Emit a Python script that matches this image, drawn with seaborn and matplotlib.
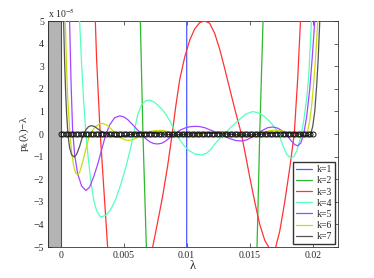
import numpy as np
import pandas as pd
import matplotlib
matplotlib.use('Agg')
import matplotlib.pyplot as plt
import seaborn as sns

# lambda in units of 1e-3, p_k(lambda)-lambda in units of 1e-5
k1_lam = [9.998, 10.002]
k1_val = [-6.0, 6.0]

k2_lam = [6.10, 6.325, 6.532, 6.802, 7.50, 9.00, 11.20, 13.50, 15.00, 15.579, 15.794, 16.056, 16.30]
k2_val = [10.5, 5.0, 0.0, -5.0, -15.0, -33.0, -40.0, -30.0, -15.0, -5.0, 0.0, 5.0, 10.0]

k3_lam = [2.540, 2.754, 2.857, 2.976, 3.143, 3.333, 3.532, 3.730, 3.968, 4.524, 5.476, 6.429,
          7.302, 7.698, 8.095, 8.492, 8.849, 9.127, 9.444, 9.841, 10.238, 10.635, 11.032, 11.429,
          11.825, 12.222, 12.619, 13.016, 13.413, 13.889, 14.341, 14.603, 15.000, 15.397, 15.794,
          16.190, 16.587, 16.825, 17.063, 17.381, 17.778, 18.175, 18.532, 18.810, 19.024, 19.206]
k3_val = [12.0, 5.0, 3.3, 1.9, 0.0, -1.6, -3.3, -5.0, -7.0, -11.0, -14.0, -11.0,
          -5.0, -3.9, -2.75, -1.4, 0.0, 1.2, 2.4, 3.4, 4.15, 4.65, 4.93, 5.0,
          4.9, 4.45, 3.75, 2.9, 2.0, 0.95, 0.0, -0.75, -1.9, -3.0, -4.0,
          -4.7, -5.08, -5.15, -5.0, -4.3, -3.0, -1.5, 0.0, 2.5, 5.0, 8.0]

k4_lam = [1.349, 1.508, 1.667, 1.825, 1.984, 2.143, 2.381, 2.619, 2.857, 3.175, 3.571, 3.968,
          4.365, 4.762, 5.159, 5.476, 5.794, 6.111, 6.429, 6.746, 7.063, 7.460, 7.857, 8.254,
          8.651, 9.127, 9.444, 9.841, 10.238, 10.635, 11.167, 11.587, 11.905, 12.222, 12.619,
          13.016, 13.413, 13.810, 14.206, 14.683, 15.214, 15.635, 16.111, 16.587, 16.984, 17.222,
          17.460, 17.698, 17.937, 18.254, 18.492, 18.730, 18.968, 19.127, 19.286, 19.524, 19.683,
          19.897, 20.000]
k4_val = [7.0, 5.0, 3.1, 1.5, 0.2, -0.8, -2.0, -2.9, -3.4, -3.68, -3.6, -3.35,
          -2.9, -2.25, -1.5, -0.8, 0.0, 0.85, 1.3, 1.47, 1.5, 1.4, 1.2, 0.95,
          0.6, 0.05, -0.25, -0.55, -0.75, -0.88, -0.93, -0.85, -0.68, -0.45, -0.2,
          0.02, 0.25, 0.45, 0.65, 0.88, 0.99, 0.95, 0.8, 0.55, 0.3, 0.08,
          -0.25, -0.62, -0.9, -1.07, -1.0, -0.75, -0.3, 0.1, 0.6, 1.6, 2.6,
          5.0, 7.0]

k5_lam = [0.595, 0.714, 0.833, 0.952, 1.111, 1.349, 1.667, 2.008, 2.302, 2.619, 2.937, 3.254,
          3.571, 3.889, 4.286, 4.683, 5.000, 5.317, 5.635, 5.952, 6.405, 6.746, 7.063, 7.381,
          7.698, 8.016, 8.333, 8.651, 9.048, 9.444, 9.841, 10.238, 10.635, 11.032, 11.429,
          11.825, 12.222, 12.619, 13.016, 13.413, 13.889, 14.365, 14.762, 15.159, 15.635, 16.032,
          16.429, 16.825, 17.222, 17.619, 18.016, 18.333, 18.571, 18.810, 19.048, 19.286, 19.524,
          19.762, 19.960, 20.159, 20.278]
k5_val = [9.0, 5.0, 2.2, 0.2, -0.9, -1.75, -2.3, -2.5, -2.35, -1.9, -1.35, -0.7,
          -0.05, 0.4, 0.72, 0.8, 0.76, 0.64, 0.46, 0.27, 0.0, -0.2, -0.34, -0.42,
          -0.44, -0.41, -0.31, -0.17, 0.0, 0.16, 0.26, 0.32, 0.34, 0.33, 0.28,
          0.19, 0.1, 0.02, -0.1, -0.2, -0.29, -0.31, -0.26, -0.14, 0.02, 0.17,
          0.28, 0.31, 0.26, 0.12, -0.1, -0.33, -0.47, -0.52, -0.4, 0.0, 0.8,
          2.0, 3.4, 5.0, 7.0]

k6_lam = [0.238, 0.373, 0.476, 0.556, 0.714, 0.873, 1.032, 1.190, 1.349, 1.508, 1.746, 1.984,
          2.222, 2.405, 2.698, 3.095, 3.333, 3.651, 4.048, 4.421, 4.762, 5.159, 5.476, 5.873,
          6.270, 6.667, 7.063, 7.460, 8.095, 8.492, 9.048, 9.603, 10.397, 11.032, 11.587,
          12.143, 12.698, 13.254, 13.810, 14.286, 14.841, 15.397, 15.952, 16.587, 17.143, 17.698,
          18.175, 18.571, 18.968, 19.206, 19.444, 19.603, 19.762, 19.921, 20.079, 20.238, 20.397,
          20.516]
k6_val = [8.5, 5.0, 2.9, 1.7, 0.2, -0.8, -1.4, -1.72, -1.81, -1.7, -1.25, -0.7,
          -0.2, 0.05, 0.3, 0.45, 0.47, 0.4, 0.2, 0.0, -0.17, -0.27, -0.28, -0.22,
          -0.1, 0.02, 0.1, 0.15, 0.16, 0.1, 0.0, -0.07, -0.09, -0.03, 0.04,
          0.09, 0.1, 0.06, -0.02, -0.08, -0.1, -0.06, 0.05, 0.15, 0.17, 0.12,
          0.03, -0.08, -0.14, -0.13, -0.05, 0.15, 0.6, 1.3, 2.3, 3.5, 5.0,
          7.0]

k7_lam = [0.183, 0.238, 0.317, 0.397, 0.476, 0.595, 0.714, 0.873, 1.087, 1.270, 1.508, 1.746,
          1.984, 2.222, 2.460, 2.698, 3.016, 3.333, 3.754, 4.127, 4.524, 4.921, 5.476, 6.270,
          7.063, 7.857, 9.048, 10.238, 11.429, 12.619, 13.810, 15.000, 16.190, 17.381, 18.175,
          18.810, 19.286, 19.603, 19.841, 20.000, 20.159, 20.317, 20.437, 20.556, 20.635]
k7_val = [7.0, 5.0, 3.2, 1.9, 0.9, -0.1, -0.6, -0.92, -1.02, -0.9, -0.55, -0.1,
          0.17, 0.33, 0.37, 0.33, 0.2, 0.08, 0.0, -0.1, -0.13, -0.1, -0.03, 0.04,
          0.05, 0.0, -0.04, 0.0, 0.04, 0.02, -0.03, -0.04, 0.0, 0.05, 0.06,
          0.02, -0.06, -0.08, 0.0, 0.35, 1.0, 2.2, 3.4, 5.0, 7.0]

labels = ['k=1', 'k=2', 'k=3', 'k=4', 'k=5', 'k=6', 'k=7']
colors = ['#4d5cff', '#2eb82e', '#ff3333', '#55ffbb', '#a545ff', '#c8dc14', '#555555']

# eigenvalue grid shown as open circles on the zero line
eig_lam = np.linspace(0.0, 0.02, 101)

lams = [k1_lam, k2_lam, k3_lam, k4_lam, k5_lam, k6_lam, k7_lam]
vals = [k1_val, k2_val, k3_val, k4_val, k5_val, k6_val, k7_val]
frames = []
for lab, la, va in zip(labels, lams, vals):
    frames.append(pd.DataFrame({'lam': np.array(la) * 1e-3, 'val': va, 'k': lab}))
df = pd.concat(frames, ignore_index=True)

sns.set_style('ticks')
plt.rcParams['font.family'] = ['Liberation Serif', 'DejaVu Serif']
plt.rcParams['mathtext.fontset'] = 'stix'

fig = plt.figure(figsize=(3.74, 2.78), dpi=100)
ax = fig.add_axes([0.1283, 0.1115, 0.7754, 0.8129])

ax.axvspan(-0.001, 0.0, facecolor='#b4b4b4', edgecolor='#505050', lw=0.8, zorder=1)

sns.lineplot(data=df, x='lam', y='val', hue='k', palette=colors, sort=False,
             estimator=None, lw=0.9, ax=ax, zorder=3)

ax.plot(eig_lam, np.zeros_like(eig_lam), 'o', mfc='none', mec='#111111', ms=3.6, mew=0.7, zorder=5)

ax.set_xlim(-0.001, 0.022)
ax.set_ylim(-5, 5)
ax.set_xticks([0, 0.005, 0.01, 0.015, 0.02])
ax.set_xticklabels(['0', '0.005', '0.01', '0.015', '0.02'])
ax.set_yticks(range(-5, 6))
ax.set_yticklabels([str(v).replace('-', '\u2212') for v in range(-5, 6)])
ax.tick_params(direction='in', top=True, right=True, length=3, width=0.5, labelsize=7, pad=3)
for s in ax.spines.values():
    s.set_linewidth(0.6)
    s.set_color('#333333')

ax.set_xlabel('\u03bb', fontsize=9, labelpad=0)
ax.set_ylabel('p$_{\\rm k}$(\u03bb)\u2212\u03bb', fontsize=8, labelpad=2)
ax.text(0.0, 1.005, r'x 10$^{-5}$', transform=ax.transAxes, ha='left', va='bottom', fontsize=7)

h, l = ax.get_legend_handles_labels()
ax.legend(h, l, loc='lower right', fontsize=7, frameon=True, fancybox=False, edgecolor='#333333',
          framealpha=1, handlelength=1.6, labelspacing=0.22, borderpad=0.3, handletextpad=0.5,
          borderaxespad=0.3)

fig.savefig('out.png', dpi=100)
